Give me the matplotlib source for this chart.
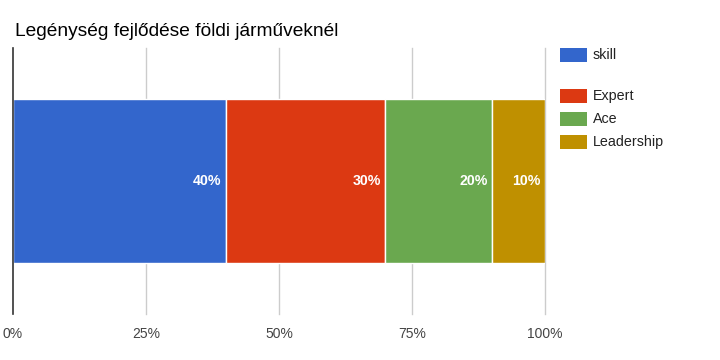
import matplotlib
matplotlib.use("Agg")
import matplotlib.pyplot as plt
from matplotlib.patches import Rectangle

plt.rcParams['font.family'] = ['Liberation Sans', 'DejaVu Sans']

title = "Legénység fejlődése földi járműveknél"
series = ["skill", "Expert", "Ace", "Leadership"]
values = [40, 30, 20, 10]
colors = ["#3366CC", "#DC3912", "#6AA84F", "#BF9000"]
ticks = [0, 25, 50, 75, 100]
tick_labels = ["0%", "25%", "50%", "75%", "100%"]

W, H = 720, 360
fig = plt.figure(figsize=(7.2, 3.6), dpi=100)
ax = fig.add_axes([13 / W, 1 - 314 / H, (545 - 13) / W, (314 - 48) / H])

left = 0
for name, v, c in zip(series, values, colors):
    ax.barh(0, v, left=left, height=0.613, color=c, edgecolor="white", linewidth=1.0, zorder=3)
    ax.text(left + v - 0.8, 0, f"{v}%", ha="right", va="center", color="white",
            fontsize=10.2, fontweight="bold", zorder=4)
    left += v

ax.set_xlim(0, 100)
ax.set_ylim(-0.5, 0.5)
ax.set_xticks(ticks)
ax.set_xticklabels(tick_labels)
ax.set_yticks([])
for t in ticks[1:]:
    ax.axvline(t, color="#CCCCCC", linewidth=1, zorder=1, clip_on=False)
ax.axvline(0, color="#333333", linewidth=1.2, zorder=5, clip_on=False)
for s in ax.spines.values():
    s.set_visible(False)
ax.tick_params(axis="x", length=0, pad=9, labelsize=10, labelcolor="#444444")

fig.text(15 / W, 1 - 31 / H, title, ha="left", va="center", fontsize=13.8, color="#000000")

# legend (with blank slot after first entry, as in reference)
legend_y = [55, 96, 119, 142]
for yc, name, c in zip(legend_y, series, colors):
    fig.add_artist(Rectangle((560 / W, 1 - (yc + 7) / H), 27 / W, 14 / H,
                             transform=fig.transFigure, color=c, linewidth=0))
    fig.text(593 / W, 1 - yc / H, name, ha="left", va="center", fontsize=10.3, color="#222222")

fig.savefig("out.png", dpi=100)
